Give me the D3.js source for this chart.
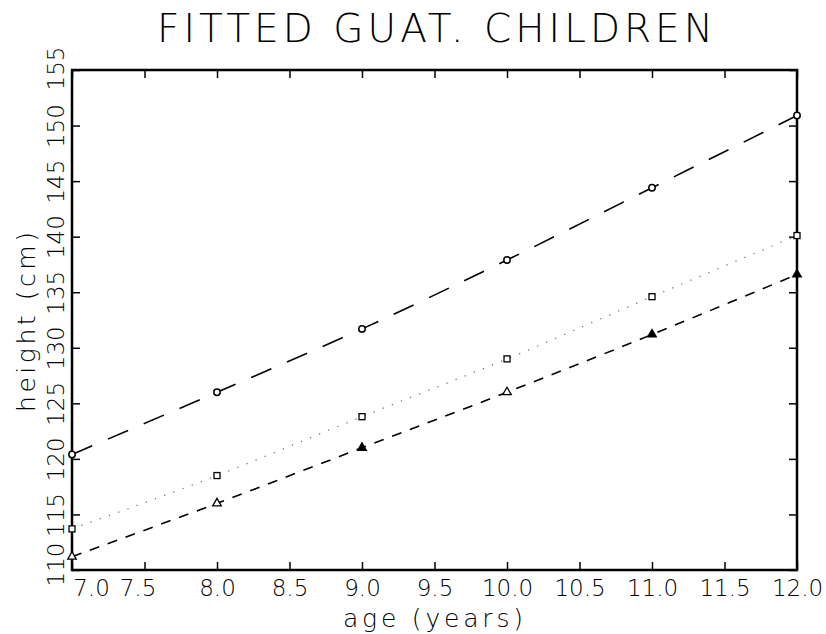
<!DOCTYPE HTML>
<html>
<head>
<meta charset="UTF-8">
<title>Fitted Guat. Children</title>
<script src="https://d3js.org/d3.v7.min.js"></script>
<style>
	body { margin: 0; padding: 0; background: white; }
	svg { display: block; background: white; }
	text { font-family: "DejaVu Sans", "Liberation Sans", sans-serif; font-weight: 200; fill: black; }
	.tick line { stroke: black; stroke-width: 1.5; }
</style>
</head>
<body>
<svg></svg>
<script>
const w = 826;
const h = 634;

// values
const ages = [7, 8, 9, 10, 11, 12];
const circleHeights = [120.4, 126.0, 131.7, 137.9, 144.4, 150.9];
const squareHeights = [113.7, 118.5, 123.8, 129.0, 134.6, 140.1];
const triangleHeights = [111.2, 116.0, 121.0, 126.0, 131.2, 136.6];
const xTicks = [7.0, 7.5, 8.0, 8.5, 9.0, 9.5, 10.0, 10.5, 11.0, 11.5, 12.0];
const yTicks = [110, 115, 120, 125, 130, 135, 140, 145, 150, 155];

const pLeft = 72, pRight = 797, pTop = 70, pBottom = 570;

const svg = d3.select('svg').attr('width', w).attr('height', h);

const xScale = d3.scaleLinear().domain([7, 12]).range([pLeft, pRight]);
const yScale = d3.scaleLinear().domain([110, 155]).range([pBottom, pTop]);

// title
svg.append('text')
	.attr('x', 435).attr('y', 42)
	.attr('text-anchor', 'middle')
	.attr('font-size', 39)
	.attr('textLength', 556)
	.attr('lengthAdjust', 'spacing')
	.text('FITTED GUAT. CHILDREN');

// axes, ticks pointing in
const xAxis = d3.axisBottom(xScale).tickValues(xTicks).tickSizeInner(-8).tickSizeOuter(0)
	.tickPadding(10).tickFormat(d3.format('.1f'));
const gx = svg.append('g').attr('transform', 'translate(0,' + pBottom + ')').call(xAxis);
gx.select('.domain').remove();
gx.selectAll('text').attr('font-size', 23).attr('fill', 'black').attr('font-family', null)
	.attr('dy', 16)
	.attr('dx', (d, i) => i === 0 ? 19 : (i === 1 ? -7 : 0));

const xTop = d3.axisTop(xScale).tickValues(xTicks).tickSizeInner(-8).tickSizeOuter(0).tickFormat('');
const gxt = svg.append('g').attr('transform', 'translate(0,' + pTop + ')').call(xTop);
gxt.select('.domain').remove();

const yAxis = d3.axisLeft(yScale).tickValues(yTicks).tickSizeInner(-8).tickSizeOuter(0).tickFormat(d3.format('d'));
const gy = svg.append('g').attr('transform', 'translate(' + pLeft + ',0)').call(yAxis);
gy.select('.domain').remove();
gy.selectAll('.tick text')
	.attr('font-size', 23).attr('fill', 'black').attr('font-family', null)
	.attr('text-anchor', 'middle')
	.attr('x', 0).attr('dy', 0)
	.attr('transform', d => 'translate(-8,' + (d === 110 ? -6 : (d === 155 ? -2 : 0)) + ') rotate(-90)');

const yRight = d3.axisRight(yScale).tickValues(yTicks).tickSizeInner(-8).tickSizeOuter(0).tickFormat('');
const gyr = svg.append('g').attr('transform', 'translate(' + pRight + ',0)').call(yRight);
gyr.select('.domain').remove();

// frame
svg.append('rect')
	.attr('x', pLeft).attr('y', pTop)
	.attr('width', pRight - pLeft).attr('height', pBottom - pTop)
	.attr('fill', 'none').attr('stroke', 'black').attr('stroke-width', 2.5);

// axis titles
svg.append('text')
	.attr('x', 433).attr('y', 627)
	.attr('text-anchor', 'middle')
	.attr('font-size', 25)
	.attr('textLength', 180)
	.attr('lengthAdjust', 'spacing')
	.text('age (years)');

svg.append('text')
	.attr('transform', 'translate(35,322) rotate(-90)')
	.attr('text-anchor', 'middle')
	.attr('font-size', 25)
	.attr('textLength', 180)
	.attr('lengthAdjust', 'spacing')
	.text('height (cm)');

// fitted curves
const line = vals => d3.line()
	.x((d, i) => xScale(ages[i]))
	.y(d => yScale(d))
	.curve(d3.curveMonotoneX)(vals);

svg.append('path').attr('d', line(circleHeights))
	.attr('fill', 'none').attr('stroke', 'black').attr('stroke-width', 1.6)
	.attr('stroke-dasharray', '22,17');

svg.append('path').attr('d', line(squareHeights))
	.attr('fill', 'none').attr('stroke', '#777').attr('stroke-width', 1.3)
	.attr('stroke-dasharray', '1.3,8.5');

svg.append('path').attr('d', line(triangleHeights))
	.attr('fill', 'none').attr('stroke', 'black').attr('stroke-width', 1.6)
	.attr('stroke-dasharray', '10,9');

// markers
svg.append('g').selectAll('circle')
	.data(circleHeights).enter().append('circle')
	.attr('cx', (d, i) => xScale(ages[i]))
	.attr('cy', d => yScale(d))
	.attr('r', 3.2)
	.attr('fill', 'white').attr('stroke', 'black').attr('stroke-width', 1.5);

svg.append('g').selectAll('rect')
	.data(squareHeights).enter().append('rect')
	.attr('x', (d, i) => xScale(ages[i]) - 3)
	.attr('y', d => yScale(d) - 3)
	.attr('width', 6).attr('height', 6)
	.attr('fill', 'white').attr('stroke', 'black').attr('stroke-width', 1.3);

const tri = d3.symbol().type(d3.symbolTriangle).size(32);
svg.append('g').selectAll('path')
	.data(triangleHeights).enter().append('path')
	.attr('d', tri)
	.attr('transform', (d, i) => 'translate(' + xScale(ages[i]) + ',' + yScale(d) + ')')
	.attr('fill', (d, i) => (i === 2 || i === 4 || i === 5) ? 'black' : 'white')
	.attr('stroke', 'black').attr('stroke-width', 1.3);
</script>
</body>
</html>
